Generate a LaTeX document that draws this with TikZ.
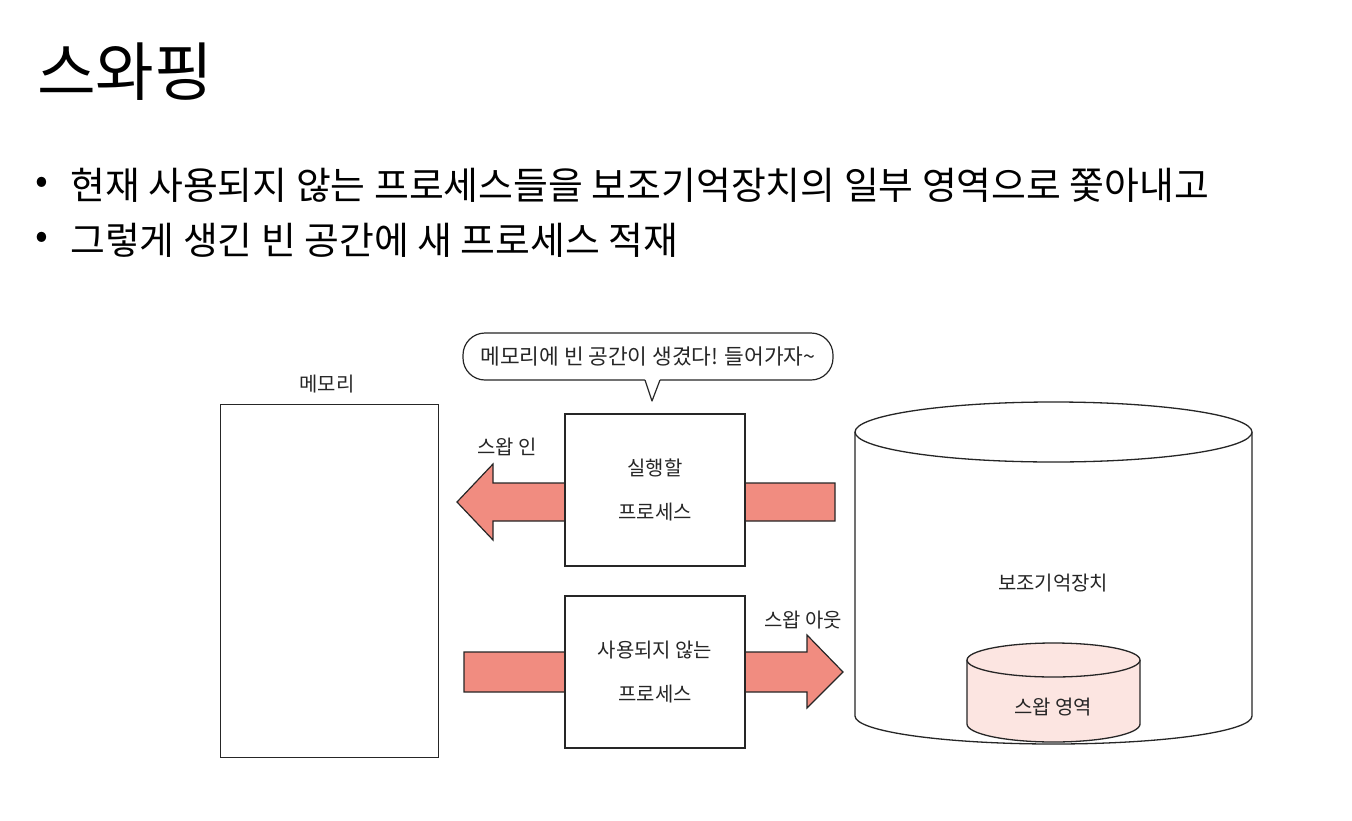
\documentclass[tikz,border=0pt]{standalone}
\usepackage{fontspec}
\setmainfont{Noto Sans CJK KR}
\usetikzlibrary{calc}
\definecolor{arrowred}{RGB}{241,140,128}
\definecolor{swappink}{RGB}{252,229,225}
\definecolor{ink}{RGB}{38,38,38}
\begin{document}
\begin{tikzpicture}[x=1bp,y=-1bp,
  every node/.style={text=ink, inner sep=0pt},
  titlefont/.style={font=\fontsize{64}{66}\selectfont, text=black},
  bulletfont/.style={font=\fontsize{38}{42}\selectfont, text=black},
  lbl/.style={font=\fontsize{20}{44}\selectfont, align=center},
  procbox/.style={draw=ink, fill=white, line width=1.3bp, minimum width=180bp, minimum height=152bp, lbl},
  membox/.style={draw=ink, fill=white, line width=1.3bp, minimum width=218bp, minimum height=353bp},
  fat/.style={draw=ink, fill=arrowred, line width=1.2bp, line join=miter},
  cyl/.style={draw=ink, line width=1.3bp},
  bubble/.style={draw=ink, fill=white, line width=1.2bp, rounded corners=22bp, minimum width=370bp, minimum height=47bp, font=\fontsize{21.5}{24}\selectfont}
]
\fill[white] (0,0) rectangle (1352,820);
\useasboundingbox (0,0) rectangle (1352,820);

% title and bullets
\node[titlefont, anchor=west] (title) at (37,72) {스와핑};
\node[bulletfont, anchor=center] (b1) at (42,185) {•};
\node[bulletfont, anchor=west] (t1) at (70,185) {현재 사용되지 않는 프로세스들을 보조기억장치의 일부 영역으로 쫓아내고};
\node[bulletfont, anchor=center] (b2) at (42,240) {•};
\node[bulletfont, anchor=west] (t2) at (70,240) {그렇게 생긴 빈 공간에 새 프로세스 적재};

% memory
\node[lbl] (memlabel) at (327,384) {메모리};
\node[membox, anchor=north west] (mem) at (220,404) {};

% fat arrows (drawn before the process boxes so the boxes cover them)
\coordinate (inTail) at (835,502);
\coordinate (inTip) at (457,502);
\coordinate (outTail) at (464,672);
\coordinate (outTip) at (843,672);
\draw[fat] ($(inTail)+(0,-19)$) -- ($(inTip)+(36,-19)$) -- ($(inTip)+(36,-38)$) -- (inTip)
  -- ($(inTip)+(36,38)$) -- ($(inTip)+(36,19)$) -- ($(inTail)+(0,19)$) -- cycle;
\draw[fat] ($(outTail)+(0,-20)$) -- ($(outTip)+(-36,-20)$) -- ($(outTip)+(-36,-37)$) -- (outTip)
  -- ($(outTip)+(-36,36)$) -- ($(outTip)+(-36,20)$) -- ($(outTail)+(0,20)$) -- cycle;

% processes
\node[procbox] (p1) at (655,490) {실행할\\프로세스};
\node[procbox] (p2) at (655,672) {사용되지 않는\\프로세스};

\node[lbl] (inlabel) at (507,447) {스왑 인};
\node[lbl] (outlabel) at (803,620) {스왑 아웃};

% speech bubble
\node[bubble] (bub) at (648,356.5) {메모리에 빈 공간이 생겼다! 들어가자{\char"007E}};
\coordinate (tailtip) at (652,401);
\fill[white] (644.5,378) -- (tailtip) -- (660.5,378) -- cycle;
\draw[ink, line width=1.2bp, line join=round] (645,380) -- (tailtip) -- (660,380);

% secondary storage cylinder
\draw[cyl, fill=white] (855,432) -- (855,716)
  arc[start angle=180, end angle=360, x radius=198.5bp, y radius=28bp] -- (1252,432);
\draw[cyl, fill=white] (1053.5,432) ellipse[x radius=198.5bp, y radius=30bp];
\node[lbl] (disk) at (1053,583) {보조기억장치};

% swap area cylinder
\draw[cyl, fill=swappink] (967,660) -- (967,724)
  arc[start angle=180, end angle=360, x radius=86.5bp, y radius=18bp] -- (1140,660);
\draw[cyl, fill=swappink] (1053.5,660) ellipse[x radius=86.5bp, y radius=17bp];
\node[lbl] (swaparea) at (1053,707) {스왑 영역};
\end{tikzpicture}
\end{document}
